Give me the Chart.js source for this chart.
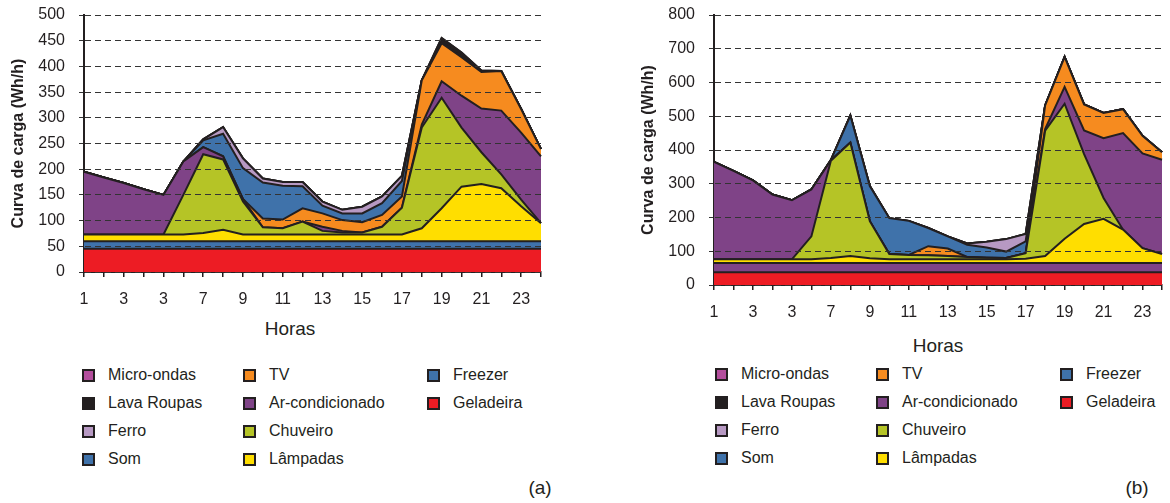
<!DOCTYPE html>
<html>
<head>
<meta charset="utf-8">
<script src="https://cdn.jsdelivr.net/npm/chart.js@4.4.1/dist/chart.umd.min.js"></script>
<style>
  body { margin:0; width:1170px; height:503px; overflow:hidden; background:#fff;
         font-family:'Liberation Sans', Arial, sans-serif; color:#231f20; position:relative; }
  .box { position:absolute; top:0; }
  .box canvas { display:block; }
  .txt { position:absolute; font-size:19px; line-height:1; transform:translate(-50%,-50%); white-space:nowrap; }
  .legend { position:absolute; display:grid; grid-auto-flow:column; grid-template-rows:repeat(4,28px);
            grid-template-columns:161px 184px auto; font-size:16px; }
  .legend div { display:flex; align-items:center; white-space:nowrap; }
  .legend span { display:inline-block; width:13px; height:13px; border:2px solid #231f20;
                 box-sizing:border-box; margin-right:13px; }
</style>
</head>
<body>
<div class="box" style="left:0"><canvas id="chartA" width="580" height="312"></canvas></div>
<div class="box" style="left:630px"><canvas id="chartB" width="545" height="325"></canvas></div>
<div class="txt" style="left:290px;top:328px">Horas</div>
<div class="txt" style="left:938px;top:345px">Horas</div>
<div class="legend" id="legA" style="left:82px;top:361px"></div>
<div class="legend" id="legB" style="left:715px;top:360px"></div>
<div class="txt" style="left:540px;top:487px">(a)</div>
<div class="txt" style="left:1137px;top:487px">(b)</div>
<script>
// horas do dia e rótulos do eixo x (como no original)
const hours = ['1','2','3','4','5','6','7','8','9','10','11','12','13','14','15','16','17','18','19','20','21','22','23','24'];
const tickLabels = ['1','3','3','7','9','11','13','15','17','19','21','23'];

// ordem de empilhamento: de baixo para cima
const series = ['Geladeira','Freezer','Lâmpadas','Chuveiro','Ar-condicionado','TV','Som','Ferro','Lava Roupas','Micro-ondas'];

// (a)
const geladeiraA = [45,45,45,45,45,45,45,45,45,45,45,45,45,45,45,45,45,45,45,45,45,45,45,45];
const freezerA   = [15,15,15,15,15,15,15,15,15,15,15,15,15,15,15,15,15,15,15,15,15,15,15,15];
const lampadasA  = [13,13,13,13,13,13,16,22,13,13,13,13,13,13,13,13,13,25,64,106,111,103,68,35];
const chuveiroA  = [0,0,0,0,0,77,153,137,64,14,12,25,7,4,4,15,52,196,215,115,62,27,13,0];
const arCondA    = [122,111,100,88,77,65,14,6,5,0,0,0,8,3,0,0,0,6,32,62,85,124,130,130];
const tvA        = [0,0,0,0,0,0,0,0,0,17,17,26,26,21,20,23,22,86,74,75,71,77,46,14];
const somA       = [0,0,0,0,0,0,13,44,60,70,66,43,15,13,17,23,30,0,0,0,0,0,0,0];
const ferroA     = [0,0,0,0,0,0,2,13,19,8,7,8,8,7,13,13,10,0,0,0,0,0,0,0];
const lavaA      = [0,0,0,0,0,0,0,0,0,0,0,0,0,0,0,0,0,0,10,9,3,0,0,0];
const microA     = [0,0,0,0,0,0,0,0,0,0,0,0,0,0,0,0,0,0,0,0,0,0,0,0];

// (b)
const geladeiraB = [38,38,38,38,38,38,38,38,38,38,38,38,38,38,38,38,38,38,38,38,38,38,38,38];
const freezerB   = [27,27,27,27,27,27,27,27,27,27,27,27,27,27,27,27,27,27,27,27,27,27,27,27];
const lampadasB  = [11,11,11,11,11,11,15,21,14,11,11,11,11,11,11,11,13,21,72,116,131,99,44,27];
const chuveiroB  = [0,0,0,0,0,68,288,336,110,16,13,12,10,7,5,4,16,371,400,207,62,0,0,0];
const arCondB    = [289,262,234,192,175,139,2,0,0,0,0,0,0,0,0,0,0,5,50,70,177,286,281,279];
const tvB        = [0,0,0,0,0,0,0,0,0,0,0,27,22,0,0,0,0,70,89,77,75,71,52,22];
const somB       = [0,0,0,0,0,0,0,80,104,106,101,54,36,36,30,19,35,0,0,0,0,0,0,0];
const ferroB     = [0,0,0,0,0,0,0,0,0,0,0,0,0,4,17,37,22,0,0,0,0,0,0,0];
const lavaB      = [0,0,0,0,0,0,0,0,0,0,0,0,0,0,0,0,0,0,0,0,0,0,0,0];
const microB     = [0,0,0,0,0,0,0,0,0,0,0,0,0,0,0,0,0,0,0,0,0,0,0,0];

const ink = '#231f20';
const colors  = ['#ed1c24','#3f72aa','#ffde00','#b5c426','#7f4387','#f68b1f','#3f72aa','#b799c3','#231f20','#b44e9d'];
const colorsB = ['#ed1c24','#7f4387','#ffde00','#b5c426','#7f4387','#f68b1f','#3f72aa','#b799c3','#231f20','#b44e9d'];

Chart.defaults.font.family = "'Liberation Sans', Arial, sans-serif";
Chart.defaults.color = ink;

// linhas de grade tracejadas por cima das áreas
const gridOnTop = {
  id: 'gridOnTop',
  afterDatasetsDraw(chart){
    chart.ctx.save();
    chart.scales.y.drawGrid(chart.chartArea);
    chart.ctx.restore();
  }
};

function createChart(id, data, fills, yMax, yStep, padRight){
  return new Chart(document.getElementById(id), {
    type: 'line',
    data: {
      labels: hours,
      datasets: series.map((name, i) => ({
        label: name,
        data: data[i],
        backgroundColor: fills[i],
        borderColor: ink,
        borderWidth: 2,
        fill: i === 0 ? 'origin' : '-1',
        pointRadius: 0,
        tension: 0
      }))
    },
    options: {
      responsive: false,
      animation: false,
      layout: { padding: { top: 15, right: padRight, left: 0, bottom: 0 } },
      plugins: { legend: { display: false }, tooltip: { enabled: false } },
      scales: {
        x: {
          grid: { drawOnChartArea: false, drawTicks: true, tickLength: 5, color: ink, lineWidth: 1.5 },
          border: { color: ink, width: 2 },
          ticks: {
            autoSkip: false, maxRotation: 0, padding: 13, font: { size: 16 },
            callback: (v, i) => i % 2 === 0 ? tickLabels[i / 2] : ''
          },
          afterFit: s => { s.height = 40; }
        },
        y: {
          stacked: true, min: 0, max: yMax,
          grid: { color: '#333', lineWidth: 1, tickLength: 5 },
          border: { color: ink, width: 2, dash: [6, 4] },
          ticks: { stepSize: yStep, padding: 14, font: { size: 16 } },
          title: { display: true, text: 'Curva de carga (Wh/h)', font: { size: 16, weight: 'bold' },
                   padding: { top: 9, bottom: 0 } },
          afterFit: s => { s.width = 84; s.paddingTop = 0; s.paddingBottom = 0; }
        }
      }
    },
    plugins: [gridOnTop]
  });
}

function createLegend(id, fills){
  const box = document.getElementById(id);
  series.slice().reverse().forEach((name, k) => {
    const i = series.length - 1 - k;
    const item = document.createElement('div');
    item.innerHTML = '<span style="background:' + fills[i] + '"></span>' + name;
    box.appendChild(item);
  });
}

createChart('chartA', [geladeiraA, freezerA, lampadasA, chuveiroA, arCondA, tvA, somA, ferroA, lavaA, microA], colors, 500, 50, 39);
createChart('chartB', [geladeiraB, freezerB, lampadasB, chuveiroB, arCondB, tvB, somB, ferroB, lavaB, microB], colorsB, 800, 100, 3);
createLegend('legA', colors);
createLegend('legB', colors);
</script>
</body>
</html>
